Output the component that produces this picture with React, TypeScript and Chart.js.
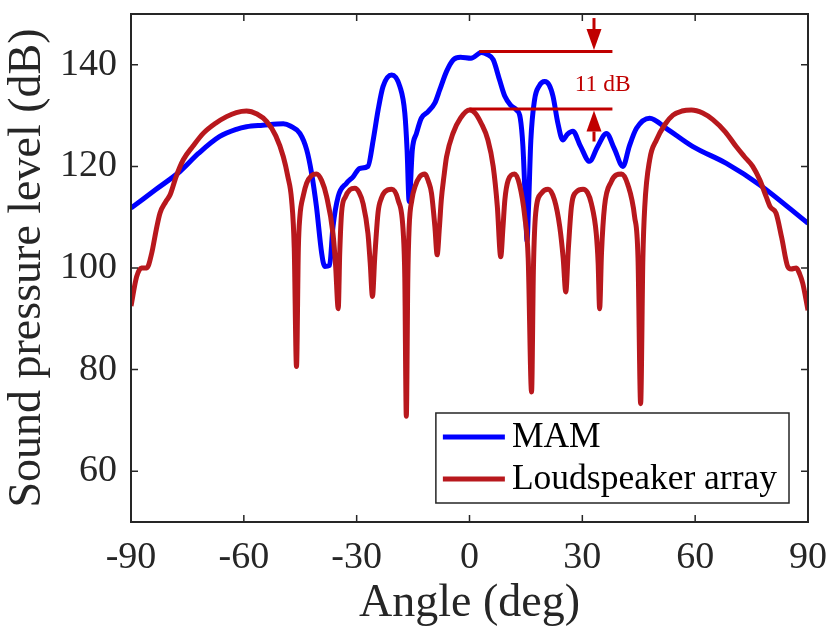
import React, { useEffect, useRef } from 'react';
import { Chart, registerables, type ChartConfiguration, type Plugin } from 'chart.js';

Chart.register(...registerables);

// axis ticks
const angleTicks = [-90, -60, -30, 0, 30, 60, 90];
const levelTicks = [60, 80, 100, 120, 140];

const seriesNames = ['MAM', 'Loudspeaker array'];

// MAM directivity (deg, dB)
const mamAngle = [
  -90, -83.5, -77, -72, -66.4, -62, -59.3, -55, -49.5, -47.5, -45.1, -43.3, -42, -40.7, -39.3, -38.5,
  -37.2, -36.3, -34.9, -32.7, -30.9, -29.2, -27, -25.6, -24.3, -23, -20.7, -18.5, -17.2, -16.6, -16.05,
  -15.2, -14.1, -12.8, -11, -9.2, -7.9, -6.1, -4.3, -2.4, 0.4, 3.2, 4.8, 6.3, 8, 9.4, 11, 12.5, 13.5,
  14.2, 14.9, 15.3, 15.7, 16.3, 17.3, 18.5, 20, 21.2, 22.2, 23.5, 24.8, 26, 27.5, 29.5, 31.9, 34, 36.4,
  38.5, 40.8, 42.5, 44.4, 47.9, 52.3, 59.4, 68.3, 77.1, 90,
];
const mamLevel = [
  111.8, 115.4, 119.0, 122.6, 125.9, 127.3, 127.8, 128.1, 128.4, 127.9, 126.5, 123.3, 118.7, 112.1, 102.9, 100.3,
  100.5, 108.1, 114.1, 116.7, 118, 119.6, 120, 125.2, 131.1, 135.7, 138, 135.7, 130.5, 123.3, 113.1,
  123.3, 126.5, 129.5, 130.8, 132.5, 135.1, 138.7, 141, 141.5, 141.3, 142.4, 142, 141, 137, 133.8, 132, 131.1, 129.5,
  124, 112, 105.3, 112, 125, 133.1, 135.8, 136.7, 136, 133.8, 128.5, 125.2, 126.3, 126.9, 124, 121, 123.8, 126.5,
  123.5, 120, 124, 127.5, 129.5, 127.5, 123.9, 120.6, 116.4, 108.8,
];

// loudspeaker array directivity (deg, dB)
const arrayAngle = [
  -90, -88.5, -87.2, -85.8, -84.5, -83.3, -82.3, -80.8, -79.6, -78, -76.1, -73.5, -70.8, -67.5, -64.6, -62,
  -59.3, -56.5, -53.9, -51.5, -49.5, -48.3, -47.3, -46.6, -46, -45.5, -45.1, -44.2, -43.3, -42, -40.7, -39.3,
  -38, -36.3, -35.6, -34.9, -34.5, -34, -33, -31.8, -30.5, -29.3, -28.3, -27, -26.4, -25.8, -25.2, -24.3,
  -23.4, -22.5, -20.7, -19, -17.6, -17.2, -16.8, -16.4, -16.05, -15.3, -14.5, -13.2, -11.9, -10.9, -10.1,
  -9.2, -8.6, -8, -7.5, -6.8, -6.1, -4.4, -2.4, 0, 1.5, 3.1, 4.9, 6.3, 7.4, 8.3, 8.9, 9.4, 10.3, 12, 13.3,
  14.7, 15.6, 16.5, 17, 17.6, 19.1, 20.9, 22.6, 24, 24.9, 25.6, 26.3, 27.1, 28.4, 30.2, 31.4, 32.4, 33.7,
  34.2, 34.6, 35.1, 35.9, 37.7, 39, 40.4, 42.1, 43.9, 44.8, 45.5, 46.1, 46.6, 47.9, 49.7, 52, 54.1, 56.5,
  59, 62, 64.7, 68, 70.9, 73, 75.3, 77.2, 78.9, 80, 81.5, 83, 84.6, 85.5, 86.9, 87.8, 88.6, 90,
];
const arrayLevel = [
  92.5, 98.3, 100, 100, 102.9, 107.5, 110.8, 113, 114.4, 118, 121.3, 124, 126.5, 128.5, 129.8, 130.6,
  130.9, 130.3, 128.8, 126, 121.9, 118, 113.4, 104, 80.6, 104, 110.1, 114.2, 116.7, 118.2, 118.5, 117.2,
  114.1, 106.8, 100.5, 92, 103, 111, 114, 115.4, 115.7, 114.8, 112.7, 106.8, 101, 94.4, 102, 111,
  113.8, 115, 115.5, 113.4, 106.8, 98, 70.8, 98, 108, 113.5, 116, 118, 118.5, 117, 114.7,
  108.1, 102.6, 108, 113.4, 118, 121.9, 126.5, 129.5, 131.1, 130.5, 128.5, 125.2, 120, 112.1, 102.2, 108, 113.4, 117.3, 118.5, 116.4,
  110.1, 102, 75.6, 100, 110.8, 114.7, 115.5, 113.4, 108.1, 102, 95.3, 104, 112.1, 115, 115.5, 114.8, 112.7, 106.8,
  101, 92, 103, 112.1, 117, 118.3, 118.5, 116.4, 110.1, 102, 73.3, 102, 112.1, 121.3, 125.2, 128.3, 130.1, 130.9,
  131.1, 130.5, 129.2, 126.8, 123.9, 122, 120, 117.3, 114, 112, 110.8, 106, 100.3, 99.8, 100, 98.8, 97, 91.7,
];

// "11 dB" main-lobe difference marker
const peakLevels = [142.6, 131.3];
const peakLineStart = [2.6, 0];
const peakLineEnd = 38;
const arrowAngle = 33.1;
const arrowTails = [149.2, 124.9];
const gapLabel = '11 dB';
const gapLabelAngle = 35.4;
const gapLabelLevel = 134.9;

const SERIF = '"Liberation Serif", "Times New Roman", serif';
const AXIS = '#262626';
const MARK_RED = '#c00000';

const framePlugin: Plugin<'line'> = {
  id: 'frame',
  afterDatasetsDraw(chart) {
    const { ctx, chartArea: a, scales } = chart;
    const tl = 7;
    ctx.save();
    ctx.strokeStyle = AXIS;
    ctx.lineWidth = 1.5;
    ctx.beginPath();
    scales.x.ticks.forEach((t) => {
      const px = scales.x.getPixelForValue(t.value);
      ctx.moveTo(px, a.bottom);
      ctx.lineTo(px, a.bottom - tl);
      ctx.moveTo(px, a.top);
      ctx.lineTo(px, a.top + tl);
    });
    scales.y.ticks.forEach((t) => {
      const py = scales.y.getPixelForValue(t.value);
      ctx.moveTo(a.left, py);
      ctx.lineTo(a.left + tl, py);
      ctx.moveTo(a.right, py);
      ctx.lineTo(a.right - tl, py);
    });
    ctx.stroke();
    ctx.lineWidth = 2;
    ctx.strokeRect(a.left, a.top, a.right - a.left, a.bottom - a.top);
    ctx.restore();
  },
};

const markerPlugin: Plugin<'line'> = {
  id: 'gapMarker',
  afterDatasetsDraw(chart) {
    const { ctx } = chart;
    const x = chart.scales.x;
    const y = chart.scales.y;
    ctx.save();
    ctx.strokeStyle = MARK_RED;
    ctx.fillStyle = MARK_RED;
    ctx.lineWidth = 3;
    const ax = x.getPixelForValue(arrowAngle);
    peakLevels.forEach((lv, i) => {
      const py = y.getPixelForValue(lv);
      ctx.beginPath();
      ctx.moveTo(x.getPixelForValue(peakLineStart[i]), py);
      ctx.lineTo(x.getPixelForValue(peakLineEnd), py);
      ctx.stroke();

      const tail = y.getPixelForValue(arrowTails[i]);
      const dir = Math.sign(py - tail);
      const tip = py - dir * 1.5;
      const base = tip - dir * 21;
      ctx.beginPath();
      ctx.moveTo(ax, tail);
      ctx.lineTo(ax, base);
      ctx.stroke();
      ctx.beginPath();
      ctx.moveTo(ax, tip);
      ctx.lineTo(ax - 7.5, base);
      ctx.lineTo(ax + 7.5, base);
      ctx.closePath();
      ctx.fill();
    });
    ctx.font = `23.5px ${SERIF}`;
    ctx.textAlign = 'center';
    ctx.textBaseline = 'alphabetic';
    ctx.fillText(gapLabel, x.getPixelForValue(gapLabelAngle), y.getPixelForValue(gapLabelLevel));
    ctx.restore();
  },
};

const legendPlugin: Plugin<'line'> = {
  id: 'boxLegend',
  afterDraw(chart) {
    const { ctx, chartArea: a } = chart;
    const sets = chart.data.datasets;
    ctx.save();
    ctx.font = `35.5px ${SERIF}`;
    const textW = Math.max(...sets.map((d) => ctx.measureText(String(d.label)).width));
    const padL = 7;
    const lineLen = 62;
    const gap = 7;
    const padR = 12;
    const rowH = 42;
    const padV = 24;
    const w = padL + lineLen + gap + textW + padR;
    const h = padV * 2 + rowH * (sets.length - 1);
    const right = a.right - 19;
    const bottom = a.bottom - 19;
    const left = right - w;
    const top = bottom - h;
    ctx.fillStyle = '#ffffff';
    ctx.fillRect(left, top, w, h);
    ctx.strokeStyle = AXIS;
    ctx.lineWidth = 1.5;
    ctx.strokeRect(left, top, w, h);
    sets.forEach((d, i) => {
      const ry = top + padV + i * rowH;
      ctx.strokeStyle = String(d.borderColor);
      ctx.lineWidth = 5;
      ctx.beginPath();
      ctx.moveTo(left + padL, ry);
      ctx.lineTo(left + padL + lineLen, ry);
      ctx.stroke();
      ctx.fillStyle = '#000000';
      ctx.textAlign = 'left';
      ctx.textBaseline = 'middle';
      ctx.fillText(String(d.label), left + padL + lineLen + gap, ry + 1);
    });
    ctx.restore();
  },
};

export default function App() {
  const canvasRef = useRef<HTMLCanvasElement | null>(null);
  const chartRef = useRef<Chart<'line'> | null>(null);

  useEffect(() => {
    if (!canvasRef.current) return;

    const config: ChartConfiguration<'line'> = {
      type: 'line',
      data: {
        datasets: [
          {
            label: seriesNames[0],
            data: mamAngle.map((x, i) => ({ x, y: mamLevel[i] })),
            borderColor: '#0000ff',
            borderWidth: 5,
            pointRadius: 0,
            cubicInterpolationMode: 'monotone',
            borderJoinStyle: 'round',
            clip: 0,
            order: 1,
          },
          {
            label: seriesNames[1],
            data: arrayAngle.map((x, i) => ({ x, y: arrayLevel[i] })),
            borderColor: '#b8181d',
            borderWidth: 5,
            pointRadius: 0,
            cubicInterpolationMode: 'monotone',
            borderJoinStyle: 'round',
            clip: 0,
            order: 0,
          },
        ],
      },
      options: {
        responsive: false,
        animation: false,
        layout: { padding: { top: 14, right: 23, left: 0, bottom: 0 } },
        plugins: {
          legend: { display: false },
          tooltip: { enabled: false },
        },
        scales: {
          x: {
            type: 'linear',
            min: -90,
            max: 90,
            afterBuildTicks: (s) => {
              s.ticks = angleTicks.map((value) => ({ value }));
            },
            afterFit: (s) => {
              s.height = 120;
              s.paddingLeft = 0;
              s.paddingRight = 0;
            },
            ticks: {
              font: { family: SERIF, size: 38 },
              color: AXIS,
              padding: 13,
              maxRotation: 0,
              autoSkip: false,
              callback: (v) => String(v),
            },
            grid: { display: false, drawTicks: false },
            border: { display: false },
            title: {
              display: true,
              text: 'Angle (deg)',
              font: { family: SERIF, size: 46 },
              color: AXIS,
              padding: { top: 0, bottom: 10 },
            },
          },
          y: {
            type: 'linear',
            min: 50,
            max: 150,
            afterBuildTicks: (s) => {
              s.ticks = levelTicks.map((value) => ({ value }));
            },
            afterFit: (s) => {
              s.width = 131;
              s.paddingTop = 0;
              s.paddingBottom = 0;
            },
            ticks: {
              font: { family: SERIF, size: 38 },
              color: AXIS,
              padding: 14,
              callback: (v) => String(v),
            },
            grid: { display: false, drawTicks: false },
            border: { display: false },
            title: {
              display: true,
              text: 'Sound pressure level (dB)',
              font: { family: SERIF, size: 46 },
              color: AXIS,
              padding: { top: 0, bottom: 0 },
            },
          },
        },
      },
      plugins: [framePlugin, markerPlugin, legendPlugin],
    };

    chartRef.current = new Chart(canvasRef.current, config);

    return () => {
      if (chartRef.current) {
        chartRef.current.destroy();
        chartRef.current = null;
      }
    };
  }, []);

  return (
    <div style={{ position: 'absolute', left: 0, top: 0, width: 831, height: 642, background: '#fff' }}>
      <canvas ref={canvasRef} width={831} height={642} />
    </div>
  );
}
